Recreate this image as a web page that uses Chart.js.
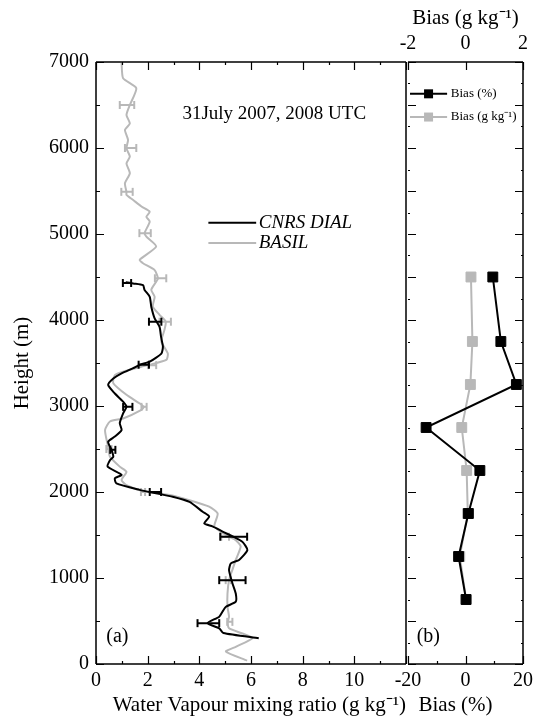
<!DOCTYPE html>
<html>
<head>
<meta charset="utf-8">
<script src="https://cdn.jsdelivr.net/npm/chart.js@4.4.0/dist/chart.umd.min.js"></script>
<style>
  html, body { margin: 0; padding: 0; background: #fff; }
  #wrap { position: relative; width: 538px; height: 724px; }
  canvas { position: absolute; top: 0; }
  #profile { left: 0; }
  #bias { left: 380px; }
</style>
</head>
<body>
<div id="wrap">
  <canvas id="profile" width="412" height="724"></canvas>
  <canvas id="bias" width="158" height="724"></canvas>
</div>
<script>
// Panel (a): water vapour profiles, height in m, mixing ratio in g/kg
const dialHeight = [300, 360, 415, 475, 550, 610, 665, 725, 820, 940, 1090, 1170, 1210, 1325, 1420, 1475, 1540, 1600, 1635, 1715, 1770, 1885, 1945, 1985, 2025, 2100, 2160, 2200, 2295, 2370, 2410, 2490, 2585, 2645, 2720, 2800, 2915, 2990, 3050, 3145, 3245, 3320, 3380, 3440, 3480, 3515, 3610, 3690, 3800, 3920, 4020, 4155, 4270, 4350, 4405, 4425, 4440];
const dialWv = [6.3, 4.93, 4.77, 4.32, 4.77, 4.9, 5.03, 5.41, 5.41, 5.28, 5.15, 5.22, 5.54, 5.86, 5.67, 5.35, 4.9, 4.51, 4.19, 4.38, 4.13, 3.62, 2.97, 2.33, 1.69, 0.79, 0.73, 0.99, 0.45, 0.54, 0.67, 0.6, 0.47, 0.73, 0.99, 0.92, 1.05, 1.18, 1.05, 0.73, 0.47, 0.67, 0.99, 1.44, 1.7, 2.08, 2.53, 2.59, 2.52, 2.46, 2.27, 2.14, 2.08, 1.88, 1.82, 1.44, 1.15];

const basilHeight = [40, 145, 200, 300, 355, 415, 490, 550, 665, 820, 975, 1095, 1210, 1365, 1440, 1480, 1540, 1600, 1750, 1830, 1905, 1965, 2005, 2080, 2140, 2235, 2295, 2410, 2525, 2720, 2820, 2855, 2955, 2990, 3030, 3130, 3265, 3360, 3400, 3475, 3535, 3610, 3750, 3885, 3980, 4060, 4155, 4270, 4350, 4445, 4485, 4580, 4660, 4700, 4855, 4970, 5010, 5145, 5200, 5260, 5320, 5395, 5455, 5490, 5590, 5705, 5820, 5900, 5995, 6095, 6210, 6285, 6385, 6500, 6695, 6810, 6990];
const basilWv = [5.85, 5.03, 5.41, 6.05, 5.67, 5.15, 5.1, 5.15, 5.09, 5.09, 5.15, 5.28, 5.41, 5.6, 5.41, 5.15, 4.83, 4.58, 4.71, 4.38, 3.62, 2.85, 1.88, 1.18, 0.99, 1.18, 0.92, 0.54, 0.47, 0.35, 0.54, 1.05, 1.76, 1.85, 1.69, 1.18, 0.67, 0.73, 1.05, 2.0, 2.72, 2.78, 2.53, 2.65, 2.7, 2.46, 2.2, 2.27, 2.14, 2.33, 2.4, 2.27, 1.82, 1.69, 2.33, 1.95, 1.88, 2.08, 1.95, 2.08, 1.76, 1.44, 1.18, 1.18, 1.12, 1.31, 1.18, 1.31, 1.18, 1.24, 1.12, 1.31, 1.18, 1.31, 1.56, 1.05, 0.99];

// error bars: height, centre, half width
const dialErrHeight = [475, 975, 1480, 2000, 2490, 2990, 3480, 3980, 4430];
const dialErrCentre = [4.35, 5.28, 5.33, 2.3, 0.65, 1.23, 1.85, 2.29, 1.2];
const dialErrHalf = [0.42, 0.51, 0.52, 0.22, 0.1, 0.18, 0.2, 0.24, 0.16];

const basilErrHeight = [490, 975, 1480, 2000, 2500, 2990, 3475, 3980, 4485, 5010, 5490, 6000, 6500];
const basilErrCentre = [5.18, 5.12, 5.0, 1.82, 0.5, 1.86, 2.17, 2.68, 2.5, 1.9, 1.2, 1.34, 1.2];
const basilErrHalf = [0.1, 0.1, 0.15, 0.08, 0.1, 0.1, 0.16, 0.22, 0.22, 0.22, 0.22, 0.22, 0.28];

// Panel (b): bias profile
const biasHeight = [750, 1250, 1750, 2250, 2750, 3250, 3750, 4500];
const biasPct = [0.2, -2.4, 1.0, 5.0, -13.7, 17.7, 12.3, 9.5];
const biasGkg = [0.02, -0.2, 0.08, 0.04, -0.13, 0.17, 0.24, 0.19];

const SERIF = "'Liberation Serif', 'Times New Roman', serif";
const GREY = '#b8b8b8';
Chart.defaults.font.family = SERIF;
Chart.defaults.color = '#000';

const pts = (xs, ys) => xs.map((x, i) => ({ x: x, y: ys[i] }));
const bars = (h, c, e) => h.flatMap((y, i) => [
  { x: c[i] - e[i], y: y }, { x: c[i] + e[i], y: y }, { x: null, y: null }
]);

// box frame with inward ticks
function frameTicks(marks, edges) {
  return {
    id: 'frameTicks',
    afterDraw(chart) {
      const { ctx, chartArea: a } = chart;
      ctx.save();
      ctx.strokeStyle = '#000';
      ctx.lineWidth = 1.5;
      ctx.beginPath();
      if (edges.includes('top')) { ctx.moveTo(a.left, a.top); ctx.lineTo(a.right, a.top); }
      if (edges.includes('bottom')) { ctx.moveTo(a.left, a.bottom); ctx.lineTo(a.right, a.bottom); }
      if (edges.includes('left')) { ctx.moveTo(a.left, a.top); ctx.lineTo(a.left, a.bottom); }
      if (edges.includes('right')) { ctx.moveTo(a.right, a.top); ctx.lineTo(a.right, a.bottom); }
      ctx.stroke();
      ctx.lineWidth = 1.2;
      ctx.beginPath();
      marks.forEach(m => {
        const s = chart.scales[m.axis];
        for (let v = s.min; v <= s.max + 1e-6; v += m.step) {
          const p = Math.round(s.getPixelForValue(v)) + 0.5;
          m.sides.forEach(side => {
            if (side === 'bottom') { ctx.moveTo(p, a.bottom); ctx.lineTo(p, a.bottom - m.len); }
            if (side === 'top') { ctx.moveTo(p, a.top); ctx.lineTo(p, a.top + m.len); }
            if (side === 'left') { ctx.moveTo(a.left, p); ctx.lineTo(a.left + m.len, p); }
            if (side === 'right') { ctx.moveTo(a.right, p); ctx.lineTo(a.right - m.len, p); }
          });
        }
      });
      ctx.stroke();
      ctx.restore();
    }
  };
}

// free text and hand placed legend, positioned in data units
function notes(items) {
  return {
    id: 'notes',
    afterDraw(chart) {
      const ctx = chart.ctx;
      ctx.save();
      items.forEach(it => {
        const xs = chart.scales[it.xAxis || 'x'], ys = chart.scales.y;
        const y = ys.getPixelForValue(it.y);
        if (it.line) {
          const x1 = xs.getPixelForValue(it.x1), x2 = xs.getPixelForValue(it.x2);
          ctx.strokeStyle = it.color;
          ctx.lineWidth = 2;
          ctx.beginPath();
          ctx.moveTo(x1, y);
          ctx.lineTo(x2, y);
          ctx.stroke();
          if (it.marker) {
            ctx.fillStyle = it.color;
            ctx.fillRect((x1 + x2) / 2 - it.marker / 2, y - it.marker / 2, it.marker, it.marker);
          }
        }
        if (it.text) {
          ctx.fillStyle = '#000';
          ctx.font = it.font;
          ctx.textAlign = it.align || 'left';
          ctx.textBaseline = 'middle';
          ctx.fillText(it.text, xs.getPixelForValue(it.x), y);
        }
      });
      ctx.restore();
    }
  };
}

const noGrid = { display: false, drawTicks: false };

new Chart(document.getElementById('profile'), {
  type: 'scatter',
  data: {
    datasets: [
      {
        label: 'CNRS DIAL err', data: bars(dialErrHeight, dialErrCentre, dialErrHalf),
        showLine: true, spanGaps: false, borderColor: '#000', borderWidth: 2,
        pointStyle: 'line', pointRotation: 90, pointRadius: 4, pointBorderWidth: 2,
        pointBorderColor: '#000'
      },
      {
        label: 'CNRS DIAL', data: pts(dialWv, dialHeight),
        showLine: true, borderColor: '#000', borderWidth: 2, tension: 0.2, pointRadius: 0
      },
      {
        label: 'BASIL err', data: bars(basilErrHeight, basilErrCentre, basilErrHalf),
        showLine: true, spanGaps: false, borderColor: GREY, borderWidth: 2,
        pointStyle: 'line', pointRotation: 90, pointRadius: 4, pointBorderWidth: 2,
        pointBorderColor: GREY
      },
      {
        label: 'BASIL', data: pts(basilWv, basilHeight),
        showLine: true, borderColor: GREY, borderWidth: 2, tension: 0.2, pointRadius: 0
      }
    ]
  },
  options: {
    responsive: false,
    animation: false,
    layout: { padding: { top: 62, right: 4, bottom: 6, left: 10 } },
    plugins: { legend: { display: false }, tooltip: { enabled: false } },
    scales: {
      x: {
        type: 'linear', min: 0, max: 12,
        grid: noGrid, border: { display: false },
        ticks: {
          stepSize: 2, padding: 5, font: { size: 20 },
          callback: v => (v === 12 ? '' : String(v))
        },
        title: {
          display: true, text: 'Water Vapour mixing ratio (g kg\u207B\u00B9)', align: 'end',
          font: { size: 21 }, padding: 0
        },
        afterFit: s => { s.height = 54; }
      },
      y: {
        type: 'linear', min: 0, max: 7000,
        grid: noGrid, border: { display: false },
        ticks: { stepSize: 1000, padding: 7, font: { size: 20 }, callback: v => String(v) },
        title: { display: true, text: 'Height (m)', font: { size: 21 }, padding: 0 },
        afterFit: s => { s.width = 86; }
      }
    }
  },
  plugins: [
    frameTicks([
      { axis: 'x', step: 2, len: 8, sides: ['bottom', 'top'] },
      { axis: 'x', step: 1, len: 3, sides: ['bottom', 'top'] },
      { axis: 'y', step: 1000, len: 8, sides: ['left'] },
      { axis: 'y', step: 500, len: 4, sides: ['left'] }
    ], ['top', 'bottom', 'left', 'right']),
    notes([
      { text: '31July 2007, 2008 UTC', x: 6.9, y: 6390, align: 'center', font: '19px ' + SERIF },
      { line: true, x1: 4.35, x2: 6.2, y: 5130, color: '#000' },
      { line: true, x1: 4.35, x2: 6.2, y: 4895, color: GREY },
      { text: 'CNRS DIAL', x: 6.3, y: 5130, font: 'italic 19px ' + SERIF },
      { text: 'BASIL', x: 6.3, y: 4895, font: 'italic 19px ' + SERIF },
      { text: '(a)', x: 0.4, y: 315, font: '20px ' + SERIF }
    ])
  ]
});

new Chart(document.getElementById('bias'), {
  type: 'scatter',
  data: {
    datasets: [
      {
        label: 'Bias (%)', data: pts(biasPct, biasHeight), xAxisID: 'x',
        showLine: true, borderColor: '#000', borderWidth: 2,
        pointStyle: 'rect', pointRadius: 7, pointBackgroundColor: '#000',
        pointBorderColor: '#000', pointBorderWidth: 1
      },
      {
        label: 'Bias (g kg\u207B\u00B9)', data: pts(biasGkg, biasHeight), xAxisID: 'x2',
        showLine: true, borderColor: GREY, borderWidth: 2,
        pointStyle: 'rect', pointRadius: 7, pointBackgroundColor: GREY,
        pointBorderColor: GREY, pointBorderWidth: 1
      }
    ]
  },
  options: {
    responsive: false,
    animation: false,
    layout: { padding: { top: 6, right: 12, bottom: 6, left: 28 } },
    plugins: { legend: { display: false }, tooltip: { enabled: false } },
    scales: {
      x: {
        type: 'linear', min: -20, max: 20,
        grid: noGrid, border: { display: false },
        ticks: { stepSize: 20, padding: 5, font: { size: 20 } },
        title: { display: true, text: '  Bias (%)', align: 'start', font: { size: 21 }, padding: 0 },
        afterFit: s => { s.height = 54; }
      },
      x2: {
        type: 'linear', position: 'top', min: -2, max: 2,
        grid: noGrid, border: { display: false },
        ticks: { stepSize: 2, padding: 6, font: { size: 20 } },
        title: { display: true, text: 'Bias (g kg\u207B\u00B9)', font: { size: 21 }, padding: 0 },
        afterFit: s => { s.height = 56; }
      },
      y: { type: 'linear', min: 0, max: 7000, display: false }
    }
  },
  plugins: [
    frameTicks([
      { axis: 'x', step: 20, len: 8, sides: ['bottom'] },
      { axis: 'x', step: 10, len: 3, sides: ['bottom'] },
      { axis: 'x2', step: 2, len: 8, sides: ['top'] },
      { axis: 'y', step: 500, len: 8, sides: ['left', 'right'] },
      { axis: 'y', step: 250, len: 2, sides: ['left', 'right'] }
    ], ['top', 'bottom', 'right']),
    notes([
      { line: true, x1: -19.3, x2: -6.4, y: 6630, color: '#000', marker: 9 },
      { line: true, x1: -19.3, x2: -6.4, y: 6360, color: GREY, marker: 9 },
      { text: 'Bias (%)', x: -5.1, y: 6630, font: '13px ' + SERIF },
      { text: 'Bias (g kg\u207B\u00B9)', x: -5.1, y: 6360, font: '13px ' + SERIF },
      { text: '(b)', x: -17, y: 315, font: '20px ' + SERIF }
    ])
  ]
});
</script>
</body>
</html>
